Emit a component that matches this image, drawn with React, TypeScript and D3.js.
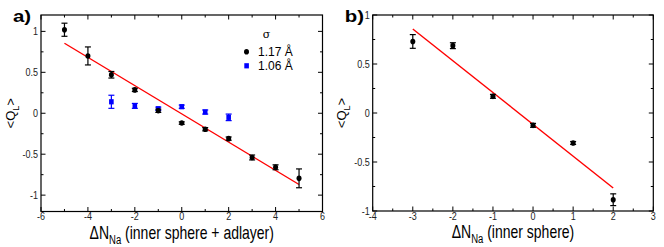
import React from 'react';
import * as d3 from 'd3';

// panel a) data: deltaN (inner sphere + adlayer)
const aBlackX = [-5, -4, -3, -2, -1, 0, 1, 2, 3, 4, 5];
const aBlackY = [1.02, 0.70, 0.47, 0.285, 0.03, -0.12, -0.195, -0.31, -0.54, -0.66, -0.795];
const aBlackErr = [0.08, 0.11, 0.04, 0.02, 0.02, 0.015, 0.02, 0.02, 0.03, 0.03, 0.115];
const aBlueX = [-3, -2, -1, 0, 1, 2];
const aBlueY = [0.14, 0.09, 0.055, 0.08, 0.015, -0.05];
const aBlueErr = [0.08, 0.03, 0.02, 0.02, 0.025, 0.04];
const aFitX = [-5, 5];
const aFitY = [0.855, -0.87];

// panel b) data: deltaN (inner sphere)
const bX = [-3, -2, -1, 0, 1, 2];
const bY = [0.73, 0.687, 0.17, -0.126, -0.306, -0.885];
const bErr = [0.07, 0.03, 0.02, 0.02, 0.015, 0.06];
const bFitX = [-3, 2];
const bFitY = [0.857, -0.765];

// ticks
const aXMajor = [-6, -4, -2, 0, 2, 4, 6];
const aXMinor = [-5, -3, -1, 1, 3, 5];
const bXMajor = [-4, -3, -2, -1, 0, 1, 2, 3];
const bXMinor = [-3.5, -2.5, -1.5, -0.5, 0.5, 1.5, 2.5];
const yMajor = [-1, -0.5, 0, 0.5, 1];
const yMinor = [-0.75, -0.25, 0.25, 0.75];
const legendLabels = ['1.17 Å', '1.06 Å'];

const FONT = 'Liberation Sans, Arial, Helvetica, sans-serif';
const SY = 1.25; // the original is a little stretched vertically

type Series = { xs: number[]; ys: number[]; errs: number[]; color: string; shape: 'circle' | 'square' };

function Panel(props: {
  left: number; right: number; top: number; bottom: number;
  xDomain: [number, number]; yDomain: [number, number];
  xMajor: number[]; xMinor: number[];
  series: Series[]; fitX: number[]; fitY: number[];
  label: string; xTitleExtra: string;
}) {
  const { left, right, top, bottom } = props;
  const x = d3.scaleLinear().domain(props.xDomain).range([left, right]);
  const y = d3.scaleLinear().domain(props.yDomain).range([bottom, top]);
  const line = d3.line<number>().x((d, i) => x(props.fitX[i])).y(d => y(d));
  const fmt = (v: number) => String(v);
  const cx = (left + right) / 2;
  const cy = y(0);
  return (
    <g fontFamily={FONT}>
      {/* ticks, inward, mirrored */}
      {props.xMajor.map(t => (
        <g key={'xM' + t}>
          <line x1={x(t)} x2={x(t)} y1={bottom} y2={bottom - 4.5} stroke="#000" />
          <line x1={x(t)} x2={x(t)} y1={top} y2={top + 4.5} stroke="#000" />
          <g transform={`translate(${x(t)},${bottom + 8.8}) scale(1,${SY})`}>
            <text fontSize={9} textAnchor="middle" fill="#222">{fmt(t)}</text>
          </g>
        </g>
      ))}
      {props.xMinor.map(t => (
        <g key={'xm' + t}>
          <line x1={x(t)} x2={x(t)} y1={bottom} y2={bottom - 2.5} stroke="#000" />
          <line x1={x(t)} x2={x(t)} y1={top} y2={top + 2.5} stroke="#000" />
        </g>
      ))}
      {yMajor.filter(t => y(t) >= top - 0.5).map(t => (
        <g key={'yM' + t}>
          <line x1={left} x2={left + 4.5} y1={y(t)} y2={y(t)} stroke="#000" />
          <line x1={right} x2={right - 4.5} y1={y(t)} y2={y(t)} stroke="#000" />
          <g transform={`translate(${left - 3},${y(t) + 3.8}) scale(1,${SY})`}>
            <text fontSize={9} textAnchor="end" fill="#222">{fmt(t)}</text>
          </g>
        </g>
      ))}
      {yMinor.map(t => (
        <g key={'ym' + t}>
          <line x1={left} x2={left + 2.5} y1={y(t)} y2={y(t)} stroke="#000" />
          <line x1={right} x2={right - 2.5} y1={y(t)} y2={y(t)} stroke="#000" />
        </g>
      ))}
      <rect x={left} y={top} width={right - left} height={bottom - top} fill="none" stroke="#000" strokeWidth={1.2} />

      {/* fit line */}
      <path d={line(props.fitY) || ''} stroke="#f00" strokeWidth={1.4} fill="none" />

      {/* data with error bars */}
      {props.series.map((s, si) => (
        <g key={'s' + si}>
          {s.xs.map((xv, i) => {
            const px = x(xv);
            const py = y(s.ys[i]);
            const y1 = y(s.ys[i] + s.errs[i]);
            const y2 = y(s.ys[i] - s.errs[i]);
            return (
              <g key={i} stroke={s.color} fill={s.color}>
                <line x1={px} x2={px} y1={y1} y2={y2} strokeWidth={1.2} />
                <line x1={px - 3} x2={px + 3} y1={y1} y2={y1} strokeWidth={1.2} />
                <line x1={px - 3} x2={px + 3} y1={y2} y2={y2} strokeWidth={1.2} />
                {s.shape === 'circle'
                  ? <ellipse cx={px} cy={py} rx={2.5} ry={2.8} stroke="none" />
                  : <rect x={px - 2.3} y={py - 2.6} width={4.6} height={5.2} stroke="none" />}
              </g>
            );
          })}
        </g>
      ))}

      {/* panel label */}
      <g transform={`translate(${left - 28},${top + 7}) scale(1.2,1)`}>
        <text fontSize={17} fontWeight="bold" fill="#000">{props.label}</text>
      </g>

      {/* y title <Q_L> */}
      <g transform={`translate(${left - 26.5},${cy}) rotate(-90)`}>
        <text textAnchor="middle" fontSize={13} fill="#000">
          &lt;Q<tspan fontSize={9} dy={4}>L</tspan><tspan dy={-4}>&gt;</tspan>
        </text>
      </g>

      {/* x title */}
      <g transform={`translate(${cx},${bottom + 27.2}) scale(1,${SY})`}>
        <text fontSize={14} textAnchor="middle" fill="#000">
          ΔN<tspan fontSize={9.5} dy={4}>Na</tspan><tspan dy={-4}> {props.xTitleExtra}</tspan>
        </text>
      </g>
    </g>
  );
}

export default function App() {
  return (
    <div style={{ position: 'absolute', left: 0, top: 0 }}>
      <svg width={664} height={247} style={{ display: 'block', background: '#fff' }}>
        <Panel
          left={41} right={322.5} top={15} bottom={211.5}
          xDomain={[-6, 6]} yDomain={[-1.2, 1.2]}
          xMajor={aXMajor} xMinor={aXMinor}
          series={[
            { xs: aBlueX, ys: aBlueY, errs: aBlueErr, color: '#0000ff', shape: 'square' },
            { xs: aBlackX, ys: aBlackY, errs: aBlackErr, color: '#000', shape: 'circle' },
          ]}
          fitX={aFitX} fitY={aFitY}
          label="a)" xTitleExtra="(inner sphere + adlayer)"
        />
        {/* legend */}
        <g fontFamily={FONT}>
          <text x={266.5} y={38} fontSize={11} textAnchor="middle" fontFamily="DejaVu Serif, serif">σ</text>
          <ellipse cx={246.5} cy={51.7} rx={2.5} ry={2.8} fill="#000" />
          <text x={258} y={56} fontSize={12}>{legendLabels[0]}</text>
          <rect x={244.3} y={63.2} width={4.6} height={5.2} fill="#0000ff" />
          <text x={258} y={70} fontSize={12}>{legendLabels[1]}</text>
        </g>
        <Panel
          left={372.7} right={653.3} top={15} bottom={211}
          xDomain={[-4, 3]} yDomain={[-1, 1]}
          xMajor={bXMajor} xMinor={bXMinor}
          series={[{ xs: bX, ys: bY, errs: bErr, color: '#000', shape: 'circle' }]}
          fitX={bFitX} fitY={bFitY}
          label="b)" xTitleExtra="(inner sphere)"
        />
      </svg>
    </div>
  );
}
